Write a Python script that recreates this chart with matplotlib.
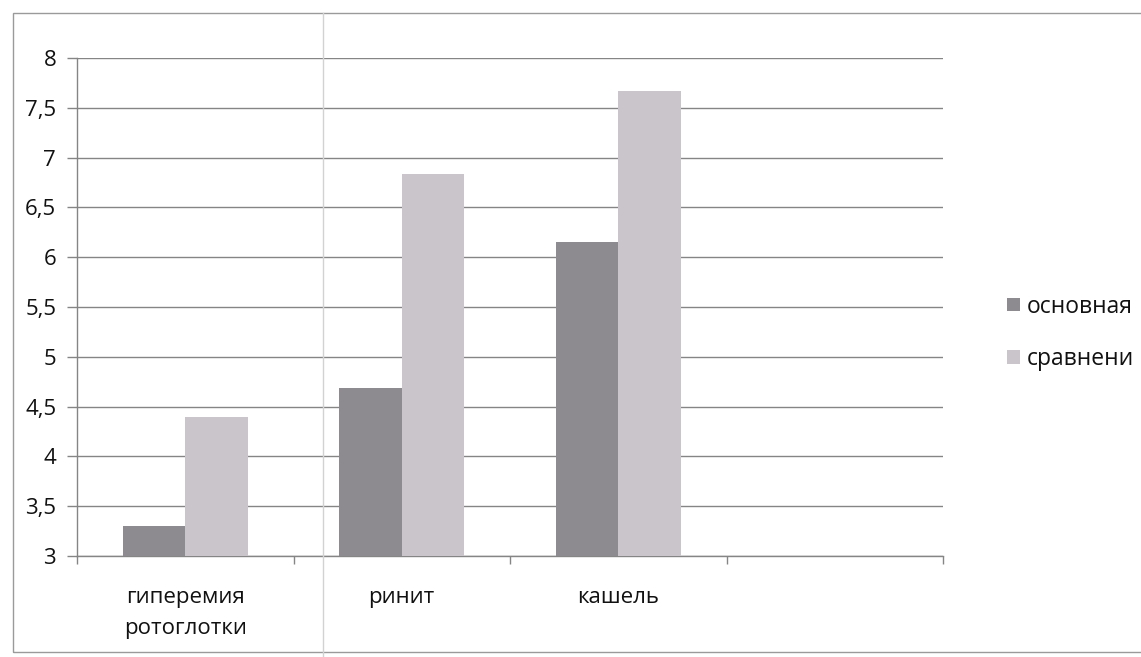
import numpy as np
import matplotlib
matplotlib.use("Agg")
import matplotlib.pyplot as plt
from matplotlib.patches import Rectangle, Patch
from matplotlib.lines import Line2D

plt.rcParams['font.family'] = ['Open Sans', 'DejaVu Sans']

# данные по симптомам
categories = ['гиперемия\nротоглотки', 'ринит', 'кашель', '']
osnovnaya = [3.3, 4.69, 6.15]
sravneniya = [4.4, 6.84, 7.67]
series_names = ['основная', 'сравнени']
y_ticks = [3, 3.5, 4, 4.5, 5, 5.5, 6, 6.5, 7, 7.5, 8]
y_labels = ['3', '3,5', '4', '4,5', '5', '5,5', '6', '6,5', '7', '7,5', '8']

W, H = 1141, 657
fig = plt.figure(figsize=(W / 100, H / 100), dpi=100)
fig.patch.set_facecolor('white')

# рамка диаграммы и линия сгиба страницы
fig.add_artist(Rectangle((13 / W, 1 - 652 / H), 1.2, (652 - 13) / H,
                         transform=fig.transFigure, fill=False,
                         edgecolor='#9a9a9a', lw=1.0))
fig.add_artist(Line2D([323 / W, 323 / W], [0, 1 - 13 / H],
                      transform=fig.transFigure, color='#d2d2d2', lw=1.0))

ax = fig.add_axes([77 / W, 1 - 556 / H, (943 - 77) / W, (556 - 58) / H])
ax.set_facecolor('none')

c_dark = '#8e8b90'
c_light = '#c9c5ca'
w = 0.289
x = np.arange(len(osnovnaya))
ax.bar(x - w / 2, osnovnaya, width=w, color=c_dark, zorder=3)
ax.bar(x + w / 2, sravneniya, width=w, color=c_light, zorder=3)

ax.set_ylim(3, 8)
ax.set_xlim(-0.5, len(categories) - 0.5)
ax.set_yticks(y_ticks)
ax.set_yticklabels(y_labels)
ax.yaxis.grid(True, color='#858585', lw=1.0, zorder=0)

# границы категорий — большие деления, подписи — малые
ax.set_xticks(np.arange(len(categories) + 1) - 0.5)
ax.set_xticklabels([])
ax.set_xticks(np.arange(len(categories)), minor=True)
ax.set_xticklabels(categories, minor=True, fontsize=16, linespacing=1.65,
                   color='#111111')
ax.tick_params(axis='x', which='major', length=6, color='#858585', width=1)
ax.tick_params(axis='x', which='minor', length=0, pad=22)
ax.tick_params(axis='y', length=7, color='#858585', width=1, pad=8,
               labelsize=16, labelcolor='#111111')

for s in ['top', 'right']:
    ax.spines[s].set_visible(False)
for s in ['left', 'bottom']:
    ax.spines[s].set_color('#858585')
    ax.spines[s].set_linewidth(1.0)

handles = [Patch(facecolor=c_dark), Patch(facecolor=c_light)]
fig.legend(handles, series_names, loc='center left',
           bbox_to_anchor=(996 / W, 1 - 333 / H), frameon=False,
           fontsize=16.5, handlelength=0.55, handleheight=0.55,
           handletextpad=0.3, labelspacing=1.25, borderpad=0,
           labelcolor='#111111')

fig.savefig('out.png', dpi=100)
